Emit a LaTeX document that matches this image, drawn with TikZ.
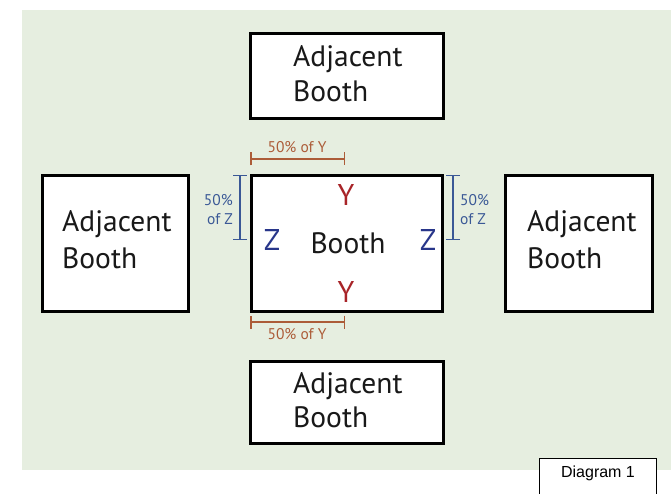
\documentclass[tikz,border=0pt]{standalone}
\usepackage{fontspec}
\setmainfont{PT Sans}
\newfontfamily\arialfont{Liberation Sans}
\usetikzlibrary{arrows.meta}
\definecolor{bggreen}{RGB}{230,238,224}
\definecolor{dimbrown}{RGB}{172,92,56}
\definecolor{ylabel}{RGB}{168,36,40}
\definecolor{zlabel}{RGB}{40,54,138}
\definecolor{dimblue}{RGB}{58,88,150}
\tikzset{
  boothbox/.style={draw=black, line width=3pt, fill=white, inner sep=0pt},
  bigtext/.style={font=\fontsize{29.5}{34}\selectfont, inner sep=0pt, text=black!90},
  smalltext/.style={font=\fontsize{15.5}{18}\selectfont, inner sep=0pt},
  letter/.style={font=\fontsize{30}{34}\selectfont, inner sep=0pt},
  dimY/.style={draw=dimbrown, line width=1.5pt, {Bar[width=13pt]}-{Bar[width=13pt]}},
  dimZ/.style={draw=dimblue, line width=1.5pt, {Bar[width=14pt]}-{Bar[width=14pt]}},
}
\begin{document}
\begin{tikzpicture}[x=1pt,y=-1pt]
\useasboundingbox (0,0) rectangle (671,494);
\fill[bggreen] (22,10) rectangle (671,470);

% boxes
\node[boothbox, minimum width=193pt, minimum height=85pt, anchor=north west] (top) at (249,32) {};
\node[boothbox, minimum width=146pt, minimum height=136pt, anchor=north west] (left) at (41,174) {};
\node[boothbox, minimum width=191pt, minimum height=136pt, anchor=north west] (booth) at (250,174) {};
\node[boothbox, minimum width=147pt, minimum height=136pt, anchor=north west] (right) at (504,174) {};
\node[boothbox, minimum width=193pt, minimum height=82pt, anchor=north west] (bottom) at (249,360) {};

% texts
\node[bigtext, anchor=base west] (topA) at (293,67) {Adjacent};
\node[bigtext, anchor=base west] (topB) at (293,102) {Booth};
\node[bigtext, anchor=base west] (leftA) at (62,232) {Adjacent};
\node[bigtext, anchor=base west] (leftB) at (62,268) {Booth};
\node[bigtext, anchor=base west] (rightA) at (527,232) {Adjacent};
\node[bigtext, anchor=base west] (rightB) at (527,268) {Booth};
\node[bigtext, anchor=base west] (botA) at (293,393) {Adjacent};
\node[bigtext, anchor=base west] (botB) at (293,427) {Booth};
\node[bigtext, anchor=base] (boothT) at (348,253) {Booth};

\node[letter, text=ylabel, anchor=base] (ytop) at (346,206) {Y};
\node[letter, text=ylabel, anchor=base] (ybot) at (346,302) {Y};
\node[letter, text=zlabel, anchor=base] (zleft) at (272,251) {Z};
\node[letter, text=zlabel, anchor=base] (zright) at (428,251) {Z};

% dimension lines
\coordinate (ya1) at (250,159);
\coordinate (ya2) at (345,159);
\draw[dimY] (ya1) -- (ya2);
\node[smalltext, text=dimbrown, anchor=base] (ytxt1) at (297,153) {50\% of Y};

\coordinate (yb1) at (250,322);
\coordinate (yb2) at (345,322);
\draw[dimY] (yb1) -- (yb2);
\node[smalltext, text=dimbrown, anchor=base] (ytxt2) at (297,339) {50\% of Y};

\coordinate (za1) at (240,175);
\coordinate (za2) at (240,240);
\draw[dimZ] (za1) -- (za2);
\node[smalltext, text=dimblue, anchor=base east] (ztxt1a) at (233,206) {50\%};
\node[smalltext, text=dimblue, anchor=base east] (ztxt1b) at (233,225) {of Z};

\coordinate (zb1) at (453,175);
\coordinate (zb2) at (453,240);
\draw[dimZ] (zb1) -- (zb2);
\node[smalltext, text=dimblue, anchor=base west] (ztxt2a) at (460,206) {50\%};
\node[smalltext, text=dimblue, anchor=base west] (ztxt2b) at (460,225) {of Z};

% diagram label
\node[draw=black, line width=0.8pt, fill=white, minimum width=117pt, minimum height=40pt, anchor=north west] (diag) at (539,458) {};
\node[font=\arialfont\fontsize{16}{18}\selectfont, anchor=base, inner sep=0pt] (diagT) at (598,477) {Diagram 1};
\end{tikzpicture}
\end{document}
